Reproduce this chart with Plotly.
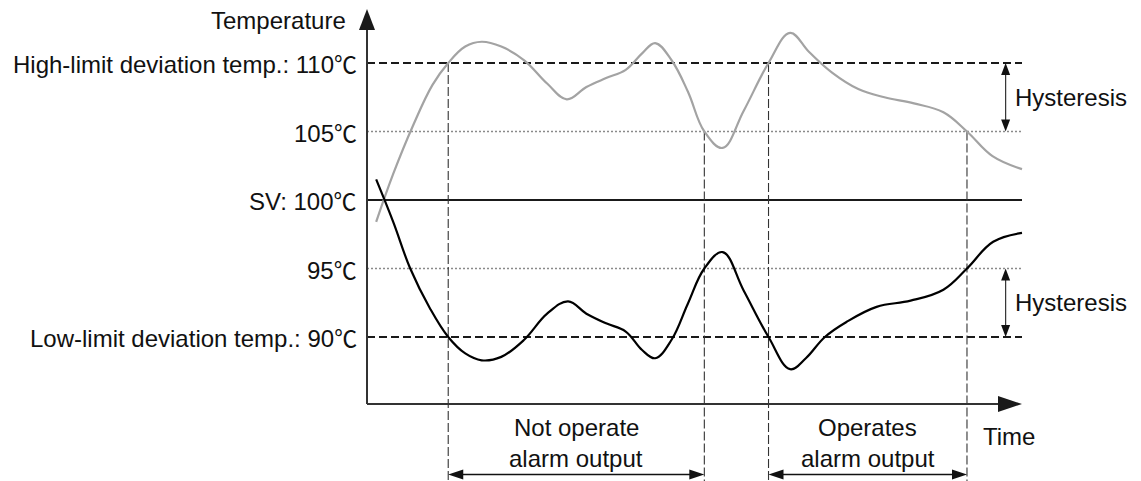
import plotly.graph_objects as go

# ---------------- data ----------------
# time in arbitrary units (0 = temperature axis, 100 = end of time axis)
time_pv1 = [1.4, 4.0, 7.0, 10.0, 12.4, 15.0, 17.5, 20.5, 24.0, 27.5, 30.5, 33.5, 36.5, 39.5, 42.0, 44.0,
            46.5, 49.0, 51.5, 54.3, 57.5, 61.3, 64.6, 67.5, 71.0, 75.0, 79.0, 83.5, 88.0, 91.6, 95.5, 100.0]
temp_pv1 = [98.4, 101.9, 105.4, 108.4, 110.0, 111.2, 111.55, 111.2, 110.2, 108.5, 107.35, 108.25, 108.9, 109.5,
            110.7, 111.45, 110.2, 107.9, 105.0, 103.8, 106.5, 110.0, 112.2, 110.8, 109.3, 108.1, 107.5, 107.05,
            106.4, 105.0, 103.2, 102.25]

time_pv2 = [1.4, 4.0, 6.6, 9.6, 12.4, 15.0, 17.5, 20.5, 24.0, 27.5, 30.7, 33.5, 36.5, 39.5, 42.0, 44.0,
            46.5, 49.0, 51.5, 54.3, 57.5, 61.3, 64.6, 67.0, 69.9, 73.2, 77.8, 83.0, 88.0, 91.6, 95.6, 100.0]
temp_pv2 = [101.5, 98.4, 95.0, 92.1, 90.0, 88.8, 88.3, 88.55, 89.8, 91.7, 92.6, 91.7, 91.0, 90.4, 89.05, 88.45,
            89.8, 92.45, 95.0, 96.2, 93.4, 90.0, 87.65, 88.45, 90.0, 91.1, 92.2, 92.65, 93.45, 95.0, 96.95, 97.6]

levels = [110, 105, 100, 95, 90]
level_values = ["High-limit deviation temp.: 110", "105", "SV: 100", "95", "Low-limit deviation temp.: 90"]
unit = "℃"
event_times = [12.4, 51.5, 61.3, 91.6]
event_levels = [110, 105, 110, 105]
hyst_pairs = [(110, 105), (95, 90)]
spans = [(12.4, 51.5, "Not operate", "alarm output"), (61.3, 91.6, "Operates", "alarm output")]

# ---------------- geometry helpers ----------------
W, H = 1141, 481
X0_PX, X_PER_UNIT = 367, 6.55
Y_SV_PX, Y_PER_DEG = 200, 13.7


def tx(p):
    return (p - X0_PX) / X_PER_UNIT


def ty(p):
    return 100 - (p - Y_SV_PX) / Y_PER_DEG


def px(t):
    return X0_PX + t * X_PER_UNIT


def py(v):
    return Y_SV_PX - (v - 100) * Y_PER_DEG


def tri(pts):
    return "M " + " L ".join(f"{tx(a)},{ty(b)}" for a, b in pts) + " Z"


FONT = "Liberation Sans, Arial, Helvetica, sans-serif"
FS = 24
TXT = "#111111"
T_END = 100
AX_Y_PX = 404

fig = go.Figure()

# reference level lines
styles = {110: dict(color="#1a1a1a", width=2, dash="8px,4px"),
          105: dict(color="#8a8a8a", width=1.3, dash="2px,2px"),
          100: dict(color="#1a1a1a", width=2.2, dash="solid"),
          95: dict(color="#8a8a8a", width=1.3, dash="2px,2px"),
          90: dict(color="#1a1a1a", width=2, dash="8px,4px")}
for lv in levels:
    fig.add_trace(go.Scatter(x=[0, T_END], y=[lv, lv], mode="lines", line=styles[lv],
                             hoverinfo="skip", showlegend=False))

# vertical event lines
bottom = ty(H)
for t, lv in zip(event_times, event_levels):
    fig.add_trace(go.Scatter(x=[t, t], y=[lv, bottom], mode="lines",
                             line=dict(color="#333333", width=1.1, dash="9px,3px"),
                             hoverinfo="skip", showlegend=False))

# curves
fig.add_trace(go.Scatter(x=time_pv1, y=temp_pv1, mode="lines", line_shape="spline",
                         line=dict(color="#a3a3a3", width=2.2, smoothing=1.1),
                         hoverinfo="skip", showlegend=False))
fig.add_trace(go.Scatter(x=time_pv2, y=temp_pv2, mode="lines", line_shape="spline",
                         line=dict(color="#000000", width=2.2, smoothing=1.1),
                         hoverinfo="skip", showlegend=False))

shapes = []
# axes
axc = "#333333"
shapes.append(dict(type="line", x0=0, x1=tx(px(T_END) - 20), y0=ty(AX_Y_PX), y1=ty(AX_Y_PX),
                   line=dict(color=axc, width=2)))
shapes.append(dict(type="line", x0=0, x1=0, y0=ty(AX_Y_PX), y1=ty(28), line=dict(color=axc, width=2)))
xe = px(T_END)
shapes.append(dict(type="path", path=tri([(xe, AX_Y_PX), (xe - 24, AX_Y_PX - 8), (xe - 24, AX_Y_PX + 8)]),
                   fillcolor="#1a1a1a", line=dict(width=0)))
shapes.append(dict(type="path", path=tri([(X0_PX, 9), (X0_PX - 8, 30), (X0_PX + 8, 30)]),
                   fillcolor="#1a1a1a", line=dict(width=0)))

# hysteresis arrows
hx = px(97.5)
for a, b in hyst_pairs:
    ya, yb = py(a), py(b)
    shapes.append(dict(type="line", x0=tx(hx), x1=tx(hx), y0=ty(ya + 10), y1=ty(yb - 10),
                       line=dict(color="#333333", width=1.2)))
    shapes.append(dict(type="path", path=tri([(hx, ya), (hx - 4.5, ya + 12), (hx + 4.5, ya + 12)]),
                       fillcolor="#111111", line=dict(width=0)))
    shapes.append(dict(type="path", path=tri([(hx, yb), (hx - 4.5, yb - 12), (hx + 4.5, yb - 12)]),
                       fillcolor="#111111", line=dict(width=0)))

# bottom span arrows
by = 474.5
for t0, t1, l1, l2 in spans:
    x0p, x1p = px(t0), px(t1)
    shapes.append(dict(type="line", x0=tx(x0p + 10), x1=tx(x1p - 10), y0=ty(by), y1=ty(by),
                       line=dict(color="#111111", width=1.3)))
    shapes.append(dict(type="path", path=tri([(x0p, by), (x0p + 15, by - 5), (x0p + 15, by + 5)]),
                       fillcolor="#111111", line=dict(width=0)))
    shapes.append(dict(type="path", path=tri([(x1p, by), (x1p - 15, by - 5), (x1p - 15, by + 5)]),
                       fillcolor="#111111", line=dict(width=0)))

annotations = []
unit_span = f"<span style='font-family:Noto Sans CJK SC;font-size:23px'>{unit}</span>"
for lv, lab in zip(levels, level_values):
    annotations.append(dict(x=tx(359), y=lv, text=lab + unit_span, xanchor="right", yanchor="middle",
                            showarrow=False, font=dict(family=FONT, size=FS, color=TXT)))
annotations.append(dict(x=tx(348), y=ty(20), text="Temperature", xanchor="right", yanchor="middle",
                        showarrow=False, font=dict(family=FONT, size=FS, color=TXT)))
annotations.append(dict(x=tx(981), y=ty(436), text="Time", xanchor="left", yanchor="middle",
                        showarrow=False, font=dict(family=FONT, size=FS, color=TXT)))
for a, b in hyst_pairs:
    annotations.append(dict(x=tx(1013), y=(a + b) / 2, text="Hysteresis", xanchor="left", yanchor="middle",
                            showarrow=False, font=dict(family=FONT, size=FS, color=TXT)))
for t0, t1, l1, l2 in spans:
    xc = (t0 + t1) / 2
    annotations.append(dict(x=xc, y=ty(427), text=l1, xanchor="center", yanchor="middle",
                            showarrow=False, font=dict(family=FONT, size=FS, color=TXT)))
    annotations.append(dict(x=xc, y=ty(458), text=l2, xanchor="center", yanchor="middle",
                            showarrow=False, font=dict(family=FONT, size=FS, color=TXT)))

fig.update_layout(
    width=W, height=H, margin=dict(l=0, r=0, t=0, b=0),
    paper_bgcolor="white", plot_bgcolor="white",
    xaxis=dict(range=[tx(0), tx(W)], visible=False, fixedrange=True),
    yaxis=dict(range=[ty(H), ty(0)], visible=False, fixedrange=True),
    shapes=shapes, annotations=annotations, showlegend=False,
)
fig.write_html("out.html", config={"displayModeBar": False},
               post_script="document.body.style.margin='0px';document.body.style.overflow='hidden';")
